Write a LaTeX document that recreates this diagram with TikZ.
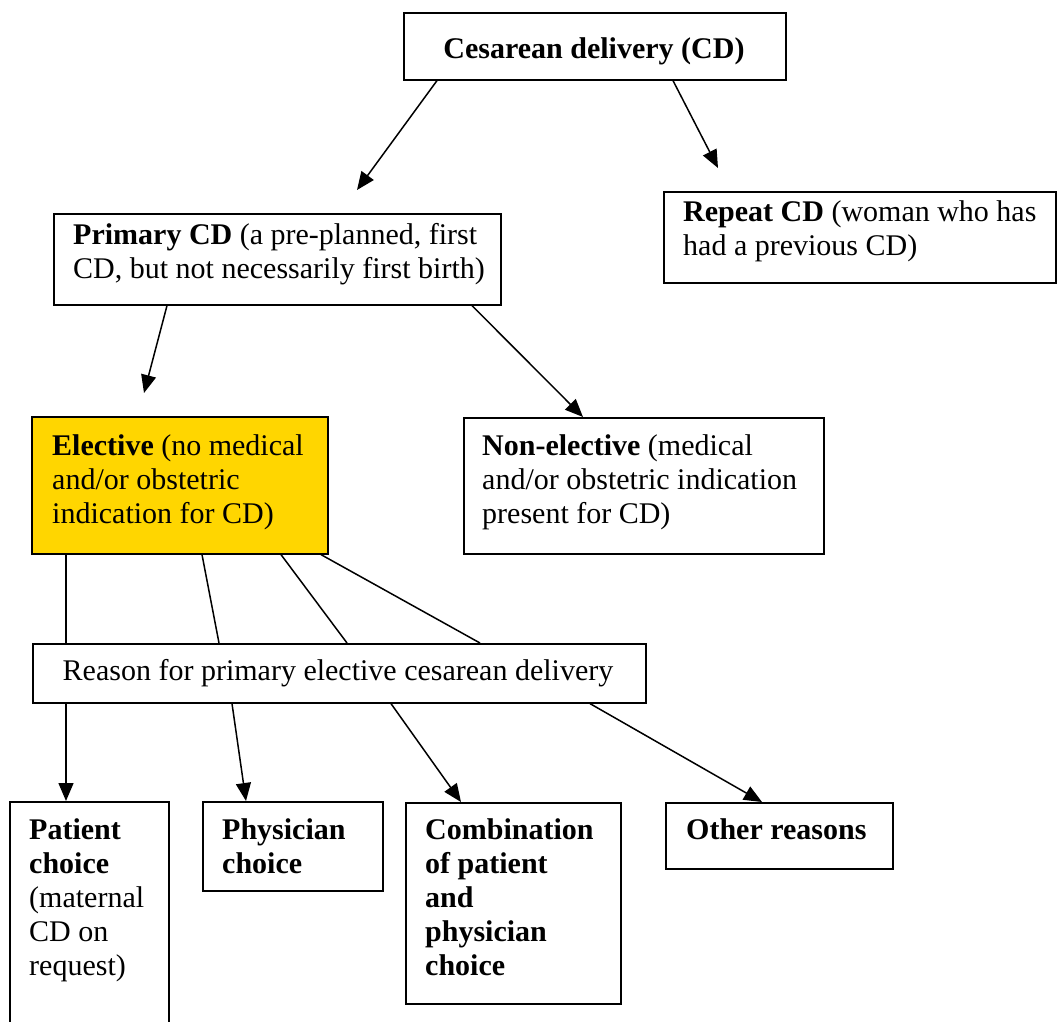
\documentclass[tikz,border=0pt]{standalone}
\usepackage{fontspec}
\setmainfont{Liberation Serif}
\usetikzlibrary{arrows.meta,calc}
\definecolor{elecyellow}{RGB}{255,214,0}
\newcommand{\boxtext}[1]{\parbox[t]{600pt}{\raggedright #1}}
\tikzset{
  box/.style={draw, line width=1.6pt, inner sep=0pt, anchor=north west, fill=white},
  txt/.style={anchor=base west, inner sep=0pt, font=\fontsize{30}{34}\selectfont},
  ctxt/.style={anchor=base, inner sep=0pt, font=\fontsize{30}{34}\selectfont},
  conn/.style={line width=1.5pt},
  arr/.style={line width=1.5pt, -{Triangle[length=18pt,width=15pt]}}
}
\begin{document}
\begin{tikzpicture}[x=1pt,y=-1pt]
\useasboundingbox (0,0) rectangle (1057,1021);
\fill[white] (0,0) rectangle (1057,1021);

% boxes
\node[box, minimum width=382pt, minimum height=67pt] (top) at (403,12) {};
\node[box, minimum width=392pt, minimum height=91pt] (rep) at (663,191) {};
\node[box, minimum width=447pt, minimum height=91pt] (prim) at (53,213) {};
\node[box, fill=elecyellow, minimum width=296pt, minimum height=137pt] (elec) at (31,416) {};
\node[box, minimum width=360pt, minimum height=136pt] (nonel) at (463,417) {};
\node[box, minimum width=613pt, minimum height=59pt] (reason) at (32,643) {};
\node[box, minimum width=159pt, minimum height=260pt] (pat) at (9,801) {};
\node[box, minimum width=180pt, minimum height=89pt] (phys) at (202,801) {};
\node[box, minimum width=215pt, minimum height=201pt] (comb) at (405,802) {};
\node[box, minimum width=227pt, minimum height=66pt] (oth) at (665,802) {};

% texts
\node[ctxt] (ttop) at (594,58) {\textbf{Cesarean delivery (CD)}};
\node[txt] (trep) at (683,221) {\boxtext{\textbf{Repeat CD} (woman who has\\had a previous CD)}};
\node[txt] (tprim) at (73,244) {\boxtext{\textbf{Primary CD} (a pre-planned, first\\CD, but not necessarily first birth)}};
\node[txt] (telec) at (52,455) {\boxtext{\textbf{Elective} (no medical\\and/or obstetric\\indication for CD)}};
\node[txt] (tnonel) at (482,455) {\boxtext{\textbf{Non-elective} (medical\\and/or obstetric indication\\present for CD)}};
\node[ctxt] (treason) at (338,680) {Reason for primary elective cesarean delivery};
\node[txt] (tpat) at (29,839) {\boxtext{\textbf{Patient}\\\textbf{choice}\\(maternal\\CD on\\request)}};
\node[txt] (tphys) at (222,839) {\boxtext{\textbf{Physician}\\\textbf{choice}}};
\node[txt] (tcomb) at (425,839) {\boxtext{\textbf{Combination}\\\textbf{of patient}\\\textbf{and}\\\textbf{physician}\\\textbf{choice}}};
\node[txt] (toth) at (686,839) {\textbf{Other reasons}};

% free arrow ends
\coordinate (c1) at (357,190);
\coordinate (c2) at (718,168);
\coordinate (c3) at (144,393);

% connectors
\draw[arr] ($(top.south west)+(34,0)$) -- (c1);
\draw[arr] ($(top.south west)+(270,0)$) -- (c2);
\draw[arr] ($(prim.south west)+(114,0)$) -- (c3);
\draw[arr] ($(prim.south west)+(419,0)$) -- ($(nonel.north west)+(120,0)$);

\draw[conn] ($(elec.south west)+(35,0)$) -- ($(reason.north west)+(34,0)$);
\draw[conn] ($(elec.south west)+(171,0)$) -- ($(reason.north west)+(187,0)$);
\draw[conn] ($(elec.south west)+(250,0)$) -- ($(reason.north west)+(315,0)$);
\draw[conn] ($(elec.south west)+(290,0)$) -- ($(reason.north west)+(448,0)$);

\draw[arr] ($(reason.south west)+(34,0)$) -- ($(pat.north west)+(57,0)$);
\draw[arr] ($(reason.south west)+(200,0)$) -- ($(phys.north west)+(44,0)$);
\draw[arr] ($(reason.south west)+(359,0)$) -- ($(comb.north west)+(56,0)$);
\draw[arr] ($(reason.south west)+(558,0)$) -- ($(oth.north west)+(97,0)$);
\end{tikzpicture}
\end{document}
